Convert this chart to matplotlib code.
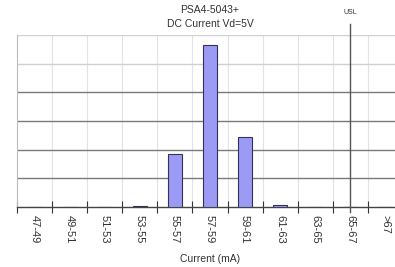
import matplotlib
matplotlib.use("Agg")
import matplotlib.pyplot as plt
import matplotlib.transforms as mtransforms
import numpy as np

plt.rcParams["font.family"] = ["Liberation Sans", "DejaVu Sans"]

categories = ["47-49", "49-51", "51-53", "53-55", "55-57", "57-59", "59-61", "61-63", "63-65", "65-67", ">67"]
counts = [0, 0, 0, 0.4, 37, 113, 49, 1.4, 0, 0, 0]
title_lines = ["PSA4-5043+", "DC Current Vd=5V"]
xlabel = "Current (mA)"
usl_category = "65-67"
grid_levels = [20, 40, 60, 80, 100, 120]
grid_colors = ["#7a7a7a", "#7a7a7a", "#7a7a7a", "#7a7a7a", "#d0d0d0", "#d0d0d0"]

W, H = 395, 267
fig = plt.figure(figsize=(W / 100, H / 100), dpi=100)
left, right, top, bottom = 17, 403, 35, 207
ax = fig.add_axes([left / W, (H - bottom) / H, (right - left) / W, (bottom - top) / H])

x = np.arange(len(categories))
ax.set_xlim(-0.5, len(categories) - 0.5)
ax.set_ylim(0, 120)

for b in np.arange(-0.5, len(categories), 1.0):
    ax.axvline(b, color="#e3e3e3", lw=0.8, zorder=0)
for lvl, c in zip(grid_levels, grid_colors):
    ax.axhline(lvl, color=c, lw=1.0, zorder=1)

ax.bar(x, counts, width=0.4, color="#9b9bf5", edgecolor="#33335a", linewidth=0.8, zorder=3)

ui = categories.index(usl_category)
trans = mtransforms.blended_transform_factory(ax.transData, ax.transAxes)
ax.plot([ui, ui], [-0.03, 1.064], transform=trans, color="#555555", lw=1.0, clip_on=False, zorder=4)
ax.text(ui, 1.13, "USL", transform=trans, ha="center", va="center", fontsize=5, color="#333333")

for sp in ["top", "right"]:
    ax.spines[sp].set_visible(False)
ax.spines["left"].set_color("#bbbbbb")
ax.spines["bottom"].set_color("#444444")
ax.spines["bottom"].set_linewidth(1.0)

ax.set_yticks([])
ax.set_xticks(np.arange(-0.5, len(categories), 1.0))
ax.set_xticklabels([])
ax.set_xticks(x, minor=True)
ax.set_xticklabels(categories, minor=True, rotation=270, fontsize=8, color="#333333")
ax.tick_params(axis="x", which="major", direction="inout", length=8, width=0.8, color="#333333")
ax.tick_params(axis="x", which="minor", length=0, pad=6)

ax.set_xlabel(xlabel, fontsize=7.5, color="#333333", labelpad=7)
fig.text(210 / W, 1 - 10 / H, title_lines[0], ha="center", va="center", fontsize=7.5, color="#333333")
fig.text(210 / W, 1 - 24 / H, title_lines[1], ha="center", va="center", fontsize=7.5, color="#333333")

fig.savefig("out.png", dpi=100)
